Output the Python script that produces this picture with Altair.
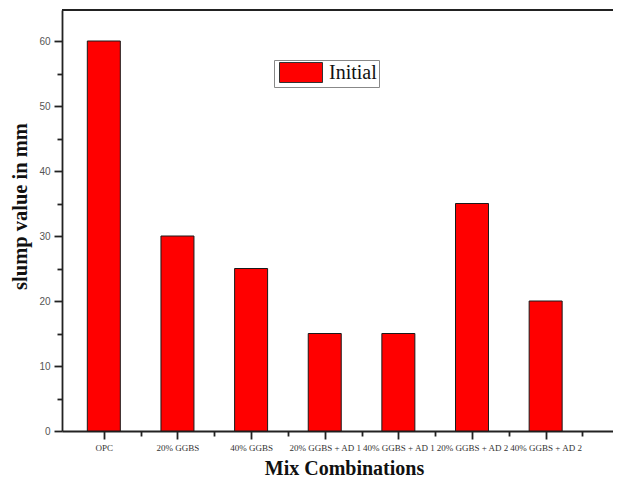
import json
import altair as alt
import pandas as pd

categories = ["OPC", "20% GGBS", "40% GGBS", "20% GGBS + AD 1",
              "40% GGBS + AD 1", "20% GGBS + AD 2", "40% GGBS + AD 2"]
slump = [60, 30, 25, 15, 15, 35, 20]
series = "Initial"

positions = list(range(1, len(categories) + 1))
df = pd.DataFrame({"pos": positions, "cat": categories, "slump": slump,
                   "series": [series] * len(categories)})

W, H = 551, 421
x_dom = [0.5, 0.5 + W / 75.0]
y_dom = [0, 421 / 6.5]

serif = "Times New Roman, Liberation Serif, serif"
sans = "Arial, Liberation Sans, sans-serif"
label_expr = json.dumps(categories) + "[datum.value - 1]"

xs = alt.Scale(domain=x_dom, nice=False, zero=False)
ys = alt.Scale(domain=y_dom, nice=False, zero=False)

bars = alt.Chart(df).mark_bar(size=33, stroke="#1a1a1a", strokeWidth=1).encode(
    x=alt.X("pos:Q", scale=xs, axis=alt.Axis(
        values=positions, labelExpr=label_expr, title="Mix Combinations",
        orient="bottom", grid=False, tickSize=8, tickWidth=1.8, tickColor="#222",
        domainColor="#222", domainWidth=1.8, labelFont=serif, labelFontSize=9,
        labelColor="#333", labelPadding=4, labelOverlap=False, labelBound=False,
        labelFlush=False, titleFont=serif, titleFontSize=20, titleFontWeight="bold",
        titleColor="#111", titleX=282, titleY=43, titleBaseline="alphabetic",
        titleAnchor="start", titleAlign="center")),
    y=alt.Y("slump:Q", scale=ys, axis=alt.Axis(
        values=[0, 10, 20, 30, 40, 50, 60], title="slump value in mm",
        orient="left", grid=False, tickSize=8, tickWidth=1.8, tickColor="#222",
        domainColor="#222", domainWidth=1.8, labelFont=sans, labelFontSize=10,
        labelColor="#555", labelPadding=4, titleFont=serif, titleFontSize=20.5,
        titleFontWeight="bold", titleColor="#111", titleX=-36, titleY=196,
        titleBaseline="alphabetic", titleAnchor="start", titleAlign="center",
        titleAngle=270)),
    color=alt.Color("series:N", scale=alt.Scale(range=["#ff0000"]), legend=alt.Legend(
        title=None, orient="none", legendX=212, legendY=50, padding=2,
        strokeColor="#888", fillColor="white", cornerRadius=0,
        symbolType="M-1,-1 h4.3 v2 h-4.3 Z", symbolSize=400, symbolOffset=3,
        symbolStrokeColor="#333", symbolStrokeWidth=1, symbolOpacity=1,
        labelExpr="datum.label + '\u2003\u2002'",
        labelFont=serif, labelFontSize=20, labelColor="#111", labelOffset=29,
        rowPadding=0)),
)

minor = alt.Chart(df).mark_bar(opacity=0).encode(
    x=alt.X("pos:Q", scale=xs, axis=alt.Axis(
        values=[1.5, 2.5, 3.5, 4.5, 5.5, 6.5, 7.5], labels=False, title=None,
        orient="bottom", grid=False, domain=False, tickSize=5, tickWidth=1.8,
        tickColor="#222")),
    y=alt.Y("slump:Q", scale=ys, axis=alt.Axis(
        values=[5, 15, 25, 35, 45, 55], labels=False, title=None,
        orient="left", grid=False, domain=False, tickSize=5, tickWidth=1.8,
        tickColor="#222")),
)

top = alt.Chart(df).mark_rule(color="#222", strokeWidth=2).encode(
    x=alt.value(0), x2=alt.value(W), y=alt.value(0))

chart = alt.layer(bars, minor, top).resolve_axis(x="independent", y="independent").properties(
    width=W, height=H, autosize=alt.AutoSizeParams(type="none"),
    padding={"left": 54, "top": 2, "right": 0, "bottom": 47},
).configure_view(strokeWidth=0).configure(background="white")

chart.save("out.html", embed_options={"renderer": "svg", "actions": False})
